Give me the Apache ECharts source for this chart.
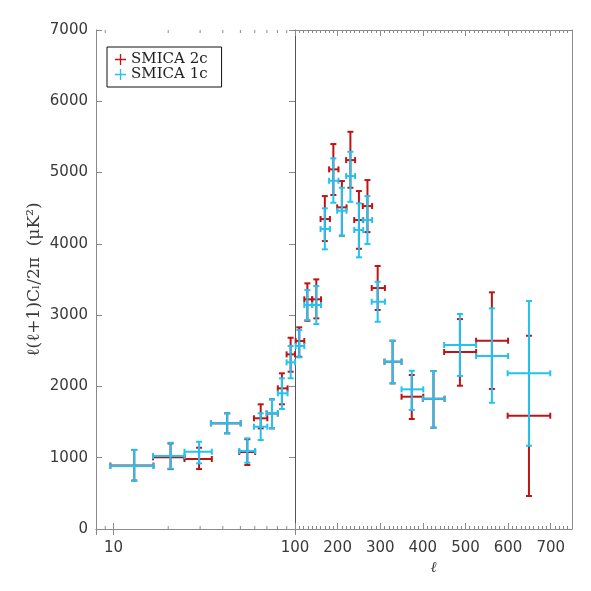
<!DOCTYPE html>
<html>
<head>
<meta charset="utf-8">
<script src="https://cdn.jsdelivr.net/npm/echarts@6/dist/echarts.min.js"></script>
<style>
  html, body { margin: 0; padding: 0; background: #fff; }
  #chart { width: 591px; height: 591px; }
</style>
</head>
<body>
<div id="chart"></div>
<script>
// multipole bins: centre, lower edge, upper edge
const ell   = [13.0, 20.6, 29.6, 42.3, 54.6, 64.7, 74.7, 84.7, 94.6,
               110, 129, 150, 170, 190, 210, 230, 250, 270, 294, 329, 374, 425, 487, 562, 649];
const ellLo = [9.6, 16.5, 24.6, 34.4, 49.3, 59.4, 69.8, 80.4, 89.9,
               101.6, 121.8, 140, 160, 180, 199, 220, 239, 259, 280, 310, 350, 400, 450, 525, 599];
const ellHi = [16.6, 24.6, 34.8, 50.2, 60.3, 70.4, 80.4, 91, 100,
               121.8, 140.6, 161, 182, 202, 221, 241, 260, 281, 311, 350, 401, 451, 525, 600, 699];

// SMICA 2c (red)
const redVal = [890, 1006, 982, 1482, 1080, 1553, 1620, 1973, 2450,
                2637, 3222, 3222, 4348, 5045, 4512, 5175, 4334, 4530, 3380, 2347, 1856, 1827, 2483, 2641, 1589];
const redLo  = [680, 840, 841, 1342, 898, 1412, 1412, 1749, 2206,
                2416, 2921, 2955, 4039, 4685, 4114, 4787, 3931, 4165, 3072, 2043, 1543, 1421, 2010, 1964, 463];
const redHi  = [1110, 1200, 1140, 1623, 1260, 1749, 1819, 2184, 2683,
                2829, 3446, 3502, 4670, 5400, 4881, 5572, 4741, 4895, 3689, 2641, 2160, 2216, 2945, 3320, 2711];

// SMICA 1c (cyan)
const cyanVal = [883, 1024, 1084, 1482, 1094, 1435, 1623, 1903, 2338,
                 2567, 3142, 3142, 4208, 4885, 4464, 4951, 4194, 4334, 3188, 2347, 1959, 1827, 2581, 2426, 2184];
const cyanLo  = [677, 846, 921, 1342, 930, 1248, 1412, 1683, 2114,
                 2408, 2931, 2875, 3923, 4577, 4114, 4590, 3811, 3997, 2907, 2043, 1669, 1421, 2146, 1771, 1168];
const cyanHi  = [1108, 1210, 1224, 1623, 1272, 1623, 1819, 2114, 2567,
                 2791, 3352, 3408, 4498, 5199, 4787, 5292, 4568, 4670, 3468, 2641, 2220, 2216, 3016, 3095, 3198];

// minor ticks of the log half
const logMinorTicks = [9, 20, 30, 40, 50, 60, 70, 80, 90];

const RED = '#bd1414';
const CYAN = '#22c3f3';
const FRAME = '#8a8a8a';
const LABEL = { color: '#3a3a3a', fontFamily: 'DejaVu Sans', fontSize: 15 };

function rows(vals, lo, hi, logPart) {
  const out = [];
  for (let i = 0; i < ell.length; i++) {
    if ((ell[i] < 100) === logPart) out.push([ell[i], ellLo[i], ellHi[i], vals[i], lo[i], hi[i]]);
  }
  return out;
}

// horizontal bin bar + vertical error bar, both with end caps
function errorCross(params, api) {
  const color = api.visual('color');
  const c = api.coord([api.value(0), api.value(3)]);
  const xl = api.coord([api.value(1), api.value(3)])[0];
  const xr = api.coord([api.value(2), api.value(3)])[0];
  const yt = api.coord([api.value(0), api.value(5)])[1];
  const yb = api.coord([api.value(0), api.value(4)])[1];
  const cap = 3;
  const seg = (x1, y1, x2, y2) => ({
    type: 'line', shape: { x1, y1, x2, y2 }, style: { stroke: color, lineWidth: 2 }
  });
  return {
    type: 'group',
    children: [
      seg(xl, c[1], xr, c[1]),
      seg(xl, c[1] - cap, xl, c[1] + cap),
      seg(xr, c[1] - cap, xr, c[1] + cap),
      seg(c[0], yt, c[0], yb),
      seg(c[0] - cap, yt, c[0] + cap, yt),
      seg(c[0] - cap, yb, c[0] + cap, yb)
    ]
  };
}

// short inward ticks on bottom and top frame of the log half
function minorTick(params, api) {
  const b = api.coord([api.value(0), 0]);
  const t = api.coord([api.value(0), 7000]);
  const st = { stroke: FRAME, lineWidth: 1 };
  return {
    type: 'group',
    children: [
      { type: 'line', shape: { x1: b[0], y1: b[1], x2: b[0], y2: b[1] - 3 }, style: st },
      { type: 'line', shape: { x1: t[0], y1: t[1], x2: t[0], y2: t[1] + 3 }, style: st }
    ]
  };
}

function crossSeries(name, color, vals, lo, hi, logPart) {
  return {
    type: 'custom',
    name: name,
    xAxisIndex: logPart ? 0 : 2,
    yAxisIndex: logPart ? 0 : 2,
    itemStyle: { color: color },
    renderItem: errorCross,
    encode: { x: [0, 1, 2], y: [3, 4, 5] },
    data: rows(vals, lo, hi, logPart),
    z: 10
  };
}

const plus = 'path://M4.4,0H5.6V4.4H10V5.6H5.6V10H4.4V5.6H0V4.4H4.4Z';

function logAxis(pos) {
  return {
    type: 'log', gridIndex: 0, position: pos, min: 8, max: 100, logBase: 10,
    axisLine: { show: true, lineStyle: { color: FRAME } },
    axisTick: { inside: true, length: 6, lineStyle: { color: FRAME } },
    axisLabel: pos === 'bottom'
      ? Object.assign({ margin: 12, formatter: v => Math.abs(v - 10) < 1e-6 ? '10' : '' }, LABEL)
      : { show: false },
    splitLine: { show: false }
  };
}

function linAxis(pos, minor) {
  const ax = {
    type: 'value', gridIndex: 1, position: pos, min: 100, max: 750,
    interval: minor ? 10 : 100,
    axisLine: { show: !minor, lineStyle: { color: FRAME } },
    axisTick: { inside: true, length: minor ? 3 : 6, lineStyle: { color: FRAME } },
    axisLabel: (pos === 'bottom' && !minor)
      ? Object.assign({ margin: 12, showMinLabel: true,
          formatter: v => v % 100 === 0 ? String(v) : '' }, LABEL)
      : { show: false },
    splitLine: { show: false }
  };
  if (pos === 'bottom' && !minor) {
    ax.name = 'ℓ';
    ax.nameLocation = 'middle';
    ax.nameGap = 29;
    ax.nameTextStyle = { color: '#3a3a3a', fontFamily: 'DejaVu Serif', fontStyle: 'italic', fontSize: 15 };
  }
  return ax;
}

const chart = echarts.init(document.getElementById('chart'));
chart.setOption({
  animation: false,
  backgroundColor: '#fff',
  grid: [
    { left: 96, top: 30, width: 199, bottom: 62 },
    { left: 295, top: 30, right: 19, bottom: 62 }
  ],
  xAxis: [
    logAxis('bottom'), logAxis('top'),
    linAxis('bottom', false), linAxis('bottom', true),
    linAxis('top', false), linAxis('top', true)
  ],
  yAxis: [
    {
      type: 'value', gridIndex: 0, position: 'left', min: 0, max: 7000, interval: 1000,
      axisLine: { show: true, lineStyle: { color: FRAME } },
      axisTick: { inside: true, length: 6, lineStyle: { color: FRAME } },
      axisLabel: Object.assign({ margin: 8, formatter: v => String(v) }, LABEL),
      splitLine: { show: false },
      name: 'ℓ(ℓ+1)Cₗ/2π  (μK²)',
      nameLocation: 'middle', nameGap: 53, nameRotate: 90,
      nameTextStyle: { color: '#3a3a3a', fontFamily: 'DejaVu Serif', fontSize: 17 }
    },
    {
      type: 'value', gridIndex: 0, position: 'right', min: 0, max: 7000, interval: 1000,
      axisLine: { show: true, lineStyle: { color: '#555' } },
      axisTick: { inside: true, length: 6, lineStyle: { color: FRAME } },
      axisLabel: { show: false },
      splitLine: { show: false }
    },
    {
      type: 'value', gridIndex: 1, position: 'left', min: 0, max: 7000, interval: 1000,
      axisLine: { show: false }, axisTick: { show: false }, axisLabel: { show: false },
      splitLine: { show: false }
    },
    {
      type: 'value', gridIndex: 1, position: 'right', min: 0, max: 7000, interval: 1000,
      axisLine: { show: true, lineStyle: { color: FRAME } },
      axisTick: { show: false }, axisLabel: { show: false },
      splitLine: { show: false }
    }
  ],
  legend: {
    left: 107, top: 47,
    orient: 'vertical',
    data: [{ name: 'SMICA 2c', icon: plus }, { name: 'SMICA 1c', icon: plus }],
    itemWidth: 11, itemHeight: 11, itemGap: 0,
    padding: [5, 14, 5, 8],
    borderColor: '#111', borderWidth: 1,
    textStyle: { color: '#222', fontFamily: 'DejaVu Serif', fontSize: 15, lineHeight: 15 }
  },
  series: [
    {
      type: 'custom',
      xAxisIndex: 0, yAxisIndex: 0,
      renderItem: minorTick,
      encode: { x: 0 },
      data: logMinorTicks.map(v => [v]),
      silent: true, z: 5
    },
    crossSeries('SMICA 2c', RED, redVal, redLo, redHi, true),
    crossSeries('SMICA 2c', RED, redVal, redLo, redHi, false),
    crossSeries('SMICA 1c', CYAN, cyanVal, cyanLo, cyanHi, true),
    crossSeries('SMICA 1c', CYAN, cyanVal, cyanLo, cyanHi, false)
  ]
});
</script>
</body>
</html>
